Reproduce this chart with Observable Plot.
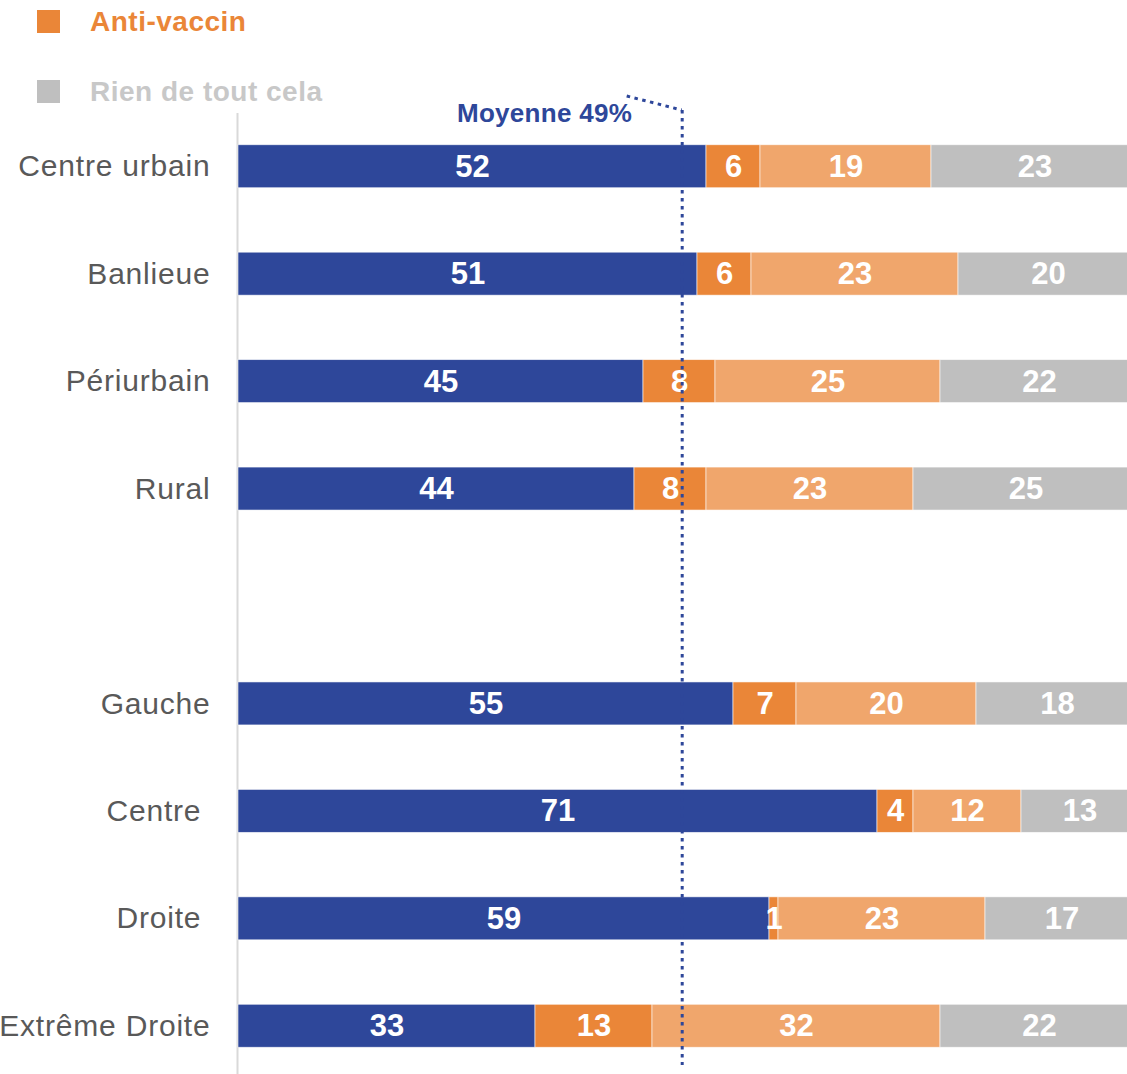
<!DOCTYPE html>
<html>
<head>
<meta charset="utf-8">
<script src="https://cdn.jsdelivr.net/npm/d3@7"></script>
<script src="https://cdn.jsdelivr.net/npm/@observablehq/plot@0.6"></script>
<style>
  html, body { margin: 0; padding: 0; background: #fff; overflow: hidden; }
  #wrap { position: relative; width: 1127px; height: 1074px; font-family: "Liberation Sans", Arial, sans-serif; }
  #legend { position: absolute; left: 0; top: 0; z-index: 2; }
  .item { position: absolute; left: 37px; display: flex; align-items: center; height: 23px; }
  .sw { width: 23px; height: 23px; margin-right: 30px; }
  .lab { font-weight: bold; font-size: 28px; white-space: nowrap; letter-spacing: 0.5px; }
  #chart svg { display: block; overflow: hidden; }
  #chart svg g[aria-label="y-axis tick label"] text { letter-spacing: 0.8px; }
  #chart svg g.meanlabel text { letter-spacing: 0.3px; }
</style>
</head>
<body>
<div id="wrap">
  <div id="legend"></div>
  <div id="chart"></div>
</div>
<script>
// ---- data ----
const categories = ["Centre urbain", "Banlieue", "Périurbain", "Rural", "Gauche", "Centre ", "Droite ", "Extrême Droite"];
const spacer = "\u2003";
const series = ["Pro-vaccin", "Anti-vaccin", "Hésitant", "Rien de tout cela"];
const proVaccin   = [52, 51, 45, 44, 55, 71, 59, 33];
const antiVaccin  = [6, 6, 8, 8, 7, 4, 1, 13];
const hesitant    = [19, 23, 25, 23, 20, 12, 23, 32];
const rien        = [23, 20, 22, 25, 18, 13, 17, 22];
const meanValue = 49.3;
const meanLabel = "Moyenne 49%";
const legendItems = ["Anti-vaccin", "Rien de tout cela"];

const colors = ["#2E479A", "#EA8638", "#F0A66C", "#BFBFBF"];
const legendText = {"Anti-vaccin": "#EA8638", "Rien de tout cela": "#C8C8C8"};

const values = [proVaccin, antiVaccin, hesitant, rien];
const rows = [];
categories.forEach((c, i) => {
  series.forEach((s, j) => rows.push({cat: c, series: s, value: values[j][i]}));
});

const yDomain = [...categories.slice(0, 4), spacer, ...categories.slice(4)];

// ---- legend ----
const legend = document.getElementById("legend");
legendItems.forEach((name, k) => {
  const it = document.createElement("div");
  it.className = "item";
  it.style.top = (10 + k * 70) + "px";
  const sw = document.createElement("div");
  sw.className = "sw";
  sw.style.background = colors[series.indexOf(name)];
  const lb = document.createElement("div");
  lb.className = "lab";
  lb.style.color = legendText[name];
  lb.textContent = name;
  it.appendChild(sw); it.appendChild(lb);
  legend.appendChild(it);
});

// leader line from label to the mean line (drawn through the x scale)
function leader(index, scales, values, dimensions) {
  const x = scales.x(meanValue);
  const p = d3.create("svg:path")
    .attr("d", `M${x - 55},${dimensions.marginTop - 14} L${x},${dimensions.marginTop}`)
    .attr("fill", "none")
    .attr("stroke", colors[0])
    .attr("stroke-width", 3)
    .attr("stroke-dasharray", "3.5,4.5");
  return p.node();
}

const chart = Plot.plot({
  width: 1127,
  height: 1074,
  marginTop: 110,
  marginBottom: 9,
  marginLeft: 238,
  marginRight: 0,
  style: {fontFamily: "'Liberation Sans', Arial, sans-serif", background: "white", overflow: "hidden"},
  x: {domain: [0, 100], range: [238, 1138], axis: null},
  y: {domain: yDomain, range: [134, 1058], paddingInner: 0.6, paddingOuter: 0.1, round: false, axis: null},
  color: {domain: series, range: colors},
  marks: [
    Plot.ruleX([0], {stroke: "#D9D9D9", strokeWidth: 2, dx: -1, insetTop: 3, insetBottom: -9}),
    Plot.barX(rows, Plot.stackX({x: "value", y: "cat", fill: "series", order: series, stroke: "white", strokeWidth: 0.8, strokeOpacity: 0.7})),
    Plot.text(rows, Plot.stackX({x: "value", y: "cat", z: "series", order: series, text: d => String(d.value), fill: "white", fontWeight: "bold", fontSize: 31})),
    Plot.axisY(categories, {tickSize: 0, tickPadding: 28, fontSize: 30, color: "#595959", label: null, textAnchor: "end"}),
    Plot.ruleX([meanValue], {stroke: colors[0], strokeWidth: 3, strokeDasharray: "3.5,4.5"}),
    leader,
    Plot.text([meanValue], {x: d => d, frameAnchor: "top", lineAnchor: "middle", dy: 3, dx: -50, textAnchor: "end", text: () => meanLabel, fill: colors[0], fontWeight: "bold", fontSize: 26, className: "meanlabel"})
  ]
});
document.getElementById("chart").appendChild(chart);
</script>
</body>
</html>
